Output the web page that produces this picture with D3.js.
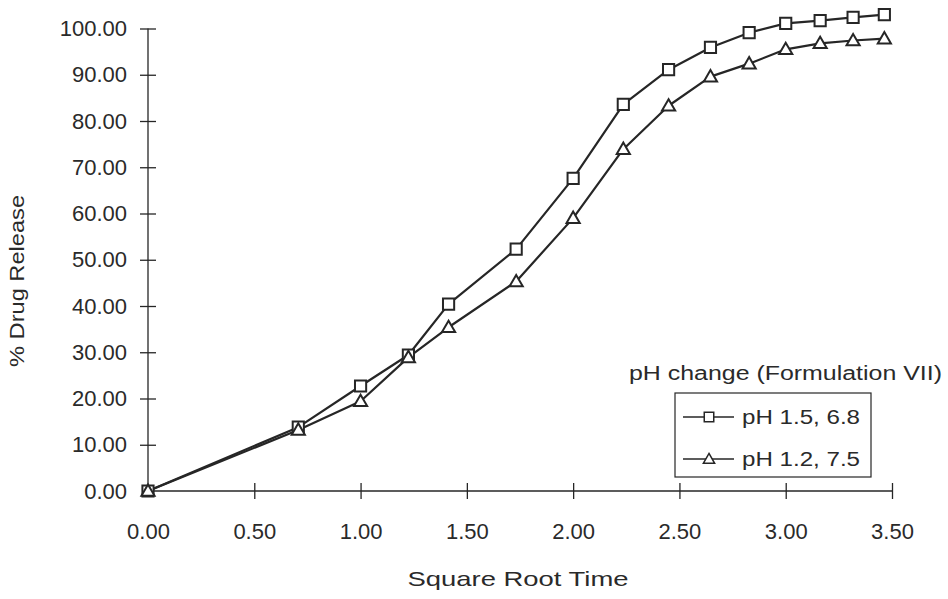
<!DOCTYPE html>
<html>
<head>
<meta charset="utf-8">
<script src="https://cdn.jsdelivr.net/npm/d3@7"></script>
<style>
  html, body { margin: 0; padding: 0; background: #fff; }
  svg { display: block; }
  text { font-family: "Liberation Sans", Arial, sans-serif; fill: #2a2a2a; }
</style>
</head>
<body>
<svg id="chart" width="948" height="599"></svg>
<script>
// ---- data ----
const sqrtTime = [0, 0.707, 1, 1.225, 1.414, 1.732, 2, 2.236, 2.449, 2.646, 2.828, 3, 3.162, 3.317, 3.464];
const releasePH15_68 = [0, 13.8, 22.7, 29.4, 40.4, 52.3, 67.6, 83.6, 91.1, 95.9, 99.1, 101.1, 101.7, 102.4, 103.0];
const releasePH12_75 = [0, 13.2, 19.4, 28.9, 35.4, 45.3, 59.0, 73.9, 83.3, 89.6, 92.4, 95.5, 96.8, 97.4, 97.8];
const seriesNames = ["pH 1.5, 6.8", "pH 1.2, 7.5"];
const xTicks = [0, 0.5, 1, 1.5, 2, 2.5, 3, 3.5];
const yTicks = [0, 10, 20, 30, 40, 50, 60, 70, 80, 90, 100];
const xTitle = "Square Root Time";
const yTitle = "% Drug Release";
const legendTitle = "pH change (Formulation VII)";

// ---- setup ----
const svg = d3.select("#chart");
const x = d3.scaleLinear().domain([0, 3.5]).range([148, 892]);
const y = d3.scaleLinear().domain([0, 100]).range([491, 28.5]);
const ink = "#262626";

// y axis
const yAxis = svg.append("g").attr("transform", `translate(${x(0)},0)`)
  .call(d3.axisLeft(y).tickValues(yTicks).tickSize(8).tickPadding(13).tickFormat(d3.format(".2f")));
yAxis.select(".domain").attr("stroke", ink).attr("stroke-width", 1.3).attr("d", `M0,${y(100)}V${y(0)}`);
yAxis.selectAll(".tick line").attr("x1", 8).attr("x2", -8).attr("stroke", ink).attr("stroke-width", 1.3);
yAxis.selectAll(".tick text").style("font-size", "22px").attr("fill", "#2a2a2a");
yAxis.selectAll(".tick").filter(d => d === 0).select("line").remove();

// x axis
const xAxis = svg.append("g").attr("transform", `translate(0,${y(0)})`)
  .call(d3.axisBottom(x).tickValues(xTicks).tickSize(8).tickPadding(24).tickFormat(d3.format(".2f")));
xAxis.select(".domain").attr("stroke", ink).attr("stroke-width", 1.3).attr("d", `M${x(0)},0H${x(3.5)}`);
xAxis.selectAll(".tick line").attr("y1", -8).attr("y2", 8).attr("stroke", ink).attr("stroke-width", 1.3);
xAxis.selectAll(".tick").filter(d => d === 0).select("line").remove();
xAxis.selectAll(".tick text").style("font-size", "22px").attr("fill", "#2a2a2a");

// axis titles
svg.append("text").attr("x", x(1.75) - 2).attr("y", 586).attr("text-anchor", "middle")
  .style("font-size", "21px").attr("textLength", 221).attr("lengthAdjust", "spacingAndGlyphs").text(xTitle);
svg.append("text").attr("transform", "translate(24,281) rotate(-90)").attr("text-anchor", "middle")
  .style("font-size", "21px").attr("textLength", 172).attr("lengthAdjust", "spacingAndGlyphs").text(yTitle);

// lines
const series = [
  { name: seriesNames[0], values: releasePH15_68, marker: "square" },
  { name: seriesNames[1], values: releasePH12_75, marker: "triangle" }
];
const line = d3.line().x((d, i) => x(sqrtTime[i])).y(d => y(d));

const symSquare = d3.symbol().type(d3.symbolSquare).size(125);
const symTri = d3.symbol().type(d3.symbolTriangle).size(75);
const symSquareSmall = d3.symbol().type(d3.symbolSquare).size(90);
const symTriSmall = d3.symbol().type(d3.symbolTriangle).size(55);

series.forEach(s => {
  svg.append("path").datum(s.values).attr("d", line)
    .attr("fill", "none").attr("stroke", ink).attr("stroke-width", 2.2).attr("stroke-linejoin", "round");
});
series.forEach(s => {
  svg.append("g").selectAll("path").data(s.values).join("path")
    .attr("transform", (d, i) => `translate(${x(sqrtTime[i])},${y(d) + (s.marker === "triangle" ? 1 : 0)})`)
    .attr("d", s.marker === "square" ? symSquare() : symTri())
    .attr("fill", "#fff").attr("stroke", ink).attr("stroke-width", 2);
});

// legend
svg.append("text").attr("x", 629).attr("y", 380)
  .style("font-size", "20px").attr("textLength", 313).attr("lengthAdjust", "spacingAndGlyphs").text(legendTitle);
svg.append("rect").attr("x", 675).attr("y", 393).attr("width", 196).attr("height", 84)
  .attr("fill", "#fff").attr("stroke", ink).attr("stroke-width", 1.2);
const legY = [417, 459];
series.forEach((s, k) => {
  const g = svg.append("g");
  g.append("line").attr("x1", 683).attr("x2", 734).attr("y1", legY[k]).attr("y2", legY[k])
    .attr("stroke", ink).attr("stroke-width", 1.6);
  g.append("path").attr("transform", `translate(709,${legY[k] + (s.marker === "triangle" ? 1 : 0)})`)
    .attr("d", s.marker === "square" ? symSquareSmall() : symTriSmall())
    .attr("fill", "#fff").attr("stroke", ink).attr("stroke-width", 1.5);
  g.append("text").attr("x", 742).attr("y", legY[k] + 7)
    .style("font-size", "20px").attr("textLength", 118).attr("lengthAdjust", "spacingAndGlyphs").text(s.name);
});
</script>
</body>
</html>
